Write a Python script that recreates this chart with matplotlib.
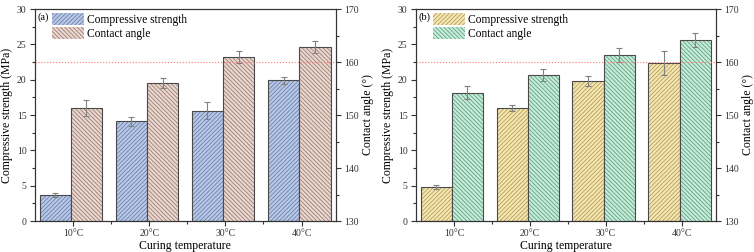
import numpy as np
import matplotlib
matplotlib.use('Agg')
import matplotlib.pyplot as plt

plt.rcParams['font.family'] = ['Liberation Serif', 'DejaVu Serif']
plt.rcParams['hatch.linewidth'] = 0.6

# Data
temps = ['10°C', '20°C', '30°C', '40°C']

strength_a = [3.7, 14.1, 15.6, 19.9]
strength_a_err = [0.3, 0.6, 1.2, 0.45]
angle_a = [151.3, 156.0, 160.9, 162.8]
angle_a_err = [1.5, 0.9, 1.1, 1.1]

strength_b = [4.8, 16.0, 19.8, 22.3]
strength_b_err = [0.3, 0.4, 0.7, 1.7]
angle_b = [154.2, 157.5, 161.3, 164.2]
angle_b_err = [1.2, 1.1, 1.3, 1.3]

threshold_angle = 160

FWD = '////////'
BACK = '\\\\\\\\\\\\\\\\'


def hatched_bar(ax, x, h, w, face, hcol, hatch, bottom=0):
    # hatch drawn in its own colour, then the dark outline on top
    ax.bar(x, h, w, bottom=bottom, facecolor=face, edgecolor=hcol,
           hatch=hatch, linewidth=0)
    return ax.bar(x, h, w, bottom=bottom, facecolor='none',
                  edgecolor='#4a4a4a', linewidth=0.8)


def panel(ax, tag, strength, s_err, angle, a_err, colors):
    x = np.arange(1, len(temps) + 1) - 0.03
    w = 0.41
    (sf, sh), (af, ah) = colors
    ax2 = ax.twinx()

    hatched_bar(ax, x - w / 2, strength, w, sf, sh, FWD)
    ax.errorbar(x - w / 2, strength, yerr=s_err, fmt='none', ecolor='#808080',
                elinewidth=0.8, capsize=2.5, capthick=0.8)
    hatched_bar(ax2, x + w / 2, np.array(angle) - 130, w, af, ah, BACK,
                bottom=130)
    ax2.errorbar(x + w / 2, angle, yerr=a_err, fmt='none', ecolor='#808080',
                 elinewidth=0.8, capsize=2.5, capthick=0.8)
    ax2.axhline(threshold_angle, color='#ff7070', ls=':', lw=0.8)

    ax.set_xlim(0.5, 4.45)
    ax.set_ylim(0, 30)
    ax2.set_ylim(130, 170)
    ticks = np.arange(1, len(temps) + 1)
    ax.set_xticks(ticks)
    ax.set_xticklabels(temps)
    ax.set_xticks(ticks[:-1] + 0.5, minor=True)
    ax.set_yticks(np.arange(0, 31, 5))
    ax.set_yticks(np.arange(2.5, 30, 5), minor=True)
    ax2.set_yticks(np.arange(130, 171, 10))
    ax2.set_yticks(np.arange(135, 170, 10), minor=True)
    for a in (ax, ax2):
        a.tick_params(which='both', direction='out', labelsize=7, width=0.8,
                      pad=2.5, colors='#333333')
        a.tick_params(which='major', length=3.5)
        a.tick_params(which='minor', length=2)
        for s in a.spines.values():
            s.set_linewidth(0.8)
            s.set_color('#333333')
    ax.set_xlabel('Curing temperature', fontsize=8.5, labelpad=1)
    ax.set_ylabel('Compressive strength (MPa)', fontsize=8.5, labelpad=3)
    ax2.set_ylabel('Contact angle (°)', fontsize=8.5, labelpad=2)

    ax.text(0.01, 0.985, tag, transform=ax.transAxes, fontsize=7.5,
            va='top', ha='left')
    h1 = plt.Rectangle((0, 0), 1, 1, facecolor=sf, edgecolor=sh, hatch=FWD,
                       linewidth=0)
    h2 = plt.Rectangle((0, 0), 1, 1, facecolor=af, edgecolor=ah, hatch=BACK,
                       linewidth=0)
    ax.legend([h1, h2], ['Compressive strength', 'Contact angle'],
              loc='upper left', bbox_to_anchor=(0.035, 1.015), frameon=False,
              fontsize=8.3, handlelength=2.7, handleheight=1.2,
              handletextpad=0.3, labelspacing=0.12, borderaxespad=0.2)


fig = plt.figure(figsize=(7.54, 2.52), dpi=100)
ax_a = fig.add_axes([0.0464, 0.123, 0.399, 0.841])
ax_b = fig.add_axes([0.5517, 0.123, 0.398, 0.841])

panel(ax_a, '(a)', strength_a, strength_a_err, angle_a, angle_a_err,
      [('#b9c8e3', '#6a82b3'), ('#ead8d0', '#9d7f76')])
panel(ax_b, '(b)', strength_b, strength_b_err, angle_b, angle_b_err,
      [('#f6e7b2', '#b49e5c'), ('#c9ecda', '#5ea584')])

fig.savefig('out.png', dpi=100)
